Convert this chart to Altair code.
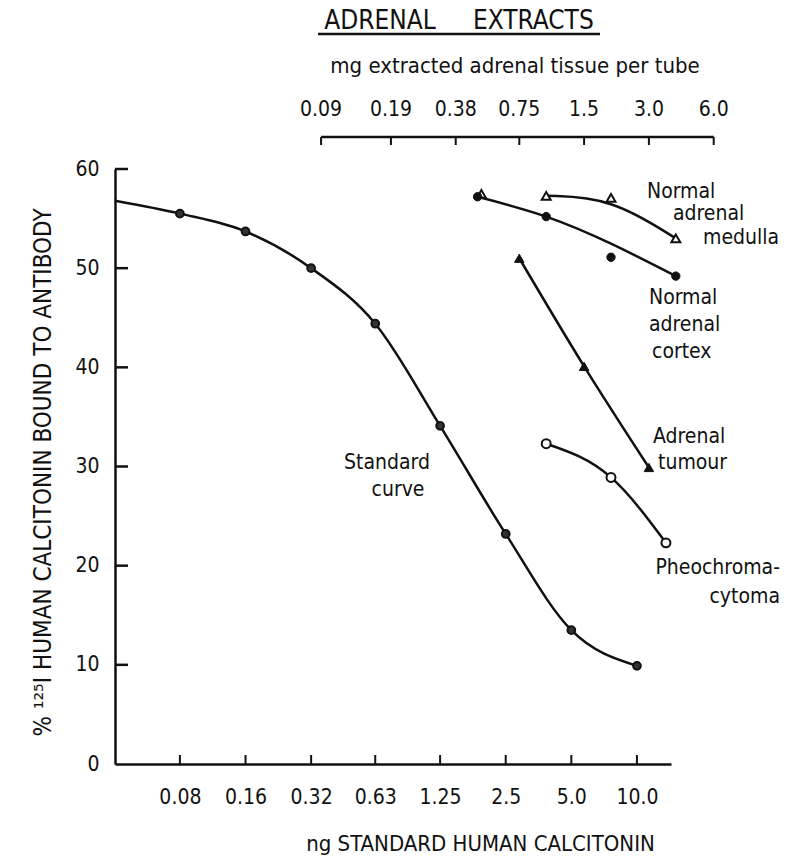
import altair as alt
import pandas as pd

# ---------------- data ----------------
# Standard curve, bottom axis (ng standard human calcitonin)
std_ng = [0.08, 0.16, 0.32, 0.63, 1.25, 2.5, 5.0, 10.0]
std_pct = [55.5, 53.7, 50.0, 44.4, 34.1, 23.2, 13.5, 9.9]
std_axis_ng = 0.0403      # where the drawn curve meets the y axis
std_axis_pct = 56.8

# Adrenal extracts, top axis (mg extracted adrenal tissue per tube)
medulla_mg = [0.5, 1.0, 2.0, 4.0]
medulla_pct = [57.5, 57.3, 57.1, 53.0]
medulla_fit = [1, 2, 3]          # points the drawn curve passes through
cortex_mg = [0.48, 1.0, 2.0, 4.0]
cortex_pct = [57.2, 55.2, 51.1, 49.2]
cortex_fit = [0, 1, 3]
tumour_mg = [0.75, 1.5, 3.0]
tumour_pct = [51.0, 40.1, 29.9]
pheo_mg = [1.0, 2.0, 3.6]
pheo_pct = [32.3, 28.9, 22.3]

# axes
ng_ticks = [0.08, 0.16, 0.32, 0.63, 1.25, 2.5, 5.0, 10.0]
mg_ticks = [0.09, 0.19, 0.38, 0.75, 1.5, 3.0, 6.0]
mg_labels = ["0.09", "0.19", "0.38", "0.75", "1.5", "3.0", "6.0"]
pct_ticks = [0, 10, 20, 30, 40, 50, 60]

# ---------------- styling ----------------
FONT = "DejaVu Sans Condensed, Liberation Sans Narrow, sans-serif"
INK = "#111111"
LW = 2.5
W, H = 556, 595
NB = "\u00a0"

ng_scale = alt.Scale(type="log", base=2, domain=[std_axis_ng, 14.33], nice=False)
mg_scale = alt.Scale(type="log", base=2, domain=[0.00993, 3.80], nice=False)
y_scale = alt.Scale(domain=[0, 60], nice=False)

bottom_axis = alt.Axis(
    values=ng_ticks,
    labelExpr="datum.value >= 5 ? format(datum.value, '.1f') : format(datum.value, '~g')",
    ticks=False, grid=False, domainColor=INK, domainWidth=LW,
    labelFont=FONT, labelFontSize=21, labelColor=INK, labelPadding=22, labelFlush=False,
    title="ng STANDARD HUMAN CALCITONIN", titleFont=FONT, titleFontSize=22,
    titleFontWeight="normal", titleColor=INK, titleX=365, titleY=79,
    titleAlign="center", titleBaseline="middle",
)
left_axis = alt.Axis(
    values=pct_ticks, ticks=False, grid=False, domainColor=INK, domainWidth=LW,
    labelFont=FONT, labelFontSize=21, labelColor=INK, labelPadding=16,
    title="% \u00b9\u00b2\u2075I HUMAN CALCITONIN BOUND TO ANTIBODY", titleFont=FONT,
    titleFontSize=24, titleFontWeight="normal", titleColor=INK,
    titleX=-72, titleY=303, titleAngle=270, titleAlign="center", titleBaseline="middle",
)


def xng(field="ng", axis=None):
    return alt.X(f"{field}:Q", scale=ng_scale, axis=axis)


def xmg(field="mg"):
    return alt.X(f"{field}:Q", scale=mg_scale, axis=None)


def ypct():
    return alt.Y("pct:Q", scale=y_scale, axis=left_axis)


def note(text, x, y, align="left", size=21):
    return alt.Chart(alt.Data(values=[{}])).mark_text(
        text=text, align=align, baseline="middle", font=FONT, fontSize=size, color=INK
    ).encode(x=alt.value(x), y=alt.value(y))


layers = []

# standard curve
std_line_df = pd.DataFrame({"ng": [std_axis_ng] + std_ng, "pct": [std_axis_pct] + std_pct})
std_pts_df = pd.DataFrame({"ng": std_ng, "pct": std_pct})
layers.append(alt.Chart(std_line_df).mark_line(color=INK, strokeWidth=LW, interpolate="monotone")
              .encode(x=xng(axis=bottom_axis), y=ypct()))
layers.append(alt.Chart(std_pts_df).mark_point(shape="circle", filled=True, fill="#333333",
                                                stroke=INK, strokeWidth=2, size=60, opacity=1)
              .encode(x=xng(), y=ypct()))

# inward ticks of the left and bottom axes
layers.append(alt.Chart(pd.DataFrame({"pct": pct_ticks[1:]})).mark_rule(color=INK, strokeWidth=LW)
              .encode(x=alt.value(0), x2=alt.value(13), y=ypct()))
layers.append(alt.Chart(pd.DataFrame({"ng": ng_ticks})).mark_rule(color=INK, strokeWidth=2)
              .encode(x=xng(), y=alt.value(H), y2=alt.value(H - 9)))

# top axis (mg adrenal tissue) drawn as a bracket
layers.append(alt.Chart(pd.DataFrame({"a": [mg_ticks[0]], "b": [mg_ticks[-1]]}))
              .mark_rule(color=INK, strokeWidth=LW)
              .encode(x=alt.X("a:Q", scale=mg_scale, axis=None), x2="b:Q", y=alt.value(-32)))
top_df = pd.DataFrame({"mg": mg_ticks, "label": mg_labels})
layers.append(alt.Chart(top_df).mark_rule(color=INK, strokeWidth=2)
              .encode(x=xmg(), y=alt.value(-32), y2=alt.value(-24)))
layers.append(alt.Chart(top_df).mark_text(font=FONT, fontSize=21, color=INK, baseline="middle")
              .encode(x=xmg(), y=alt.value(-59), text="label:N"))


def series(mg, pct, fit, point_kw, curve="monotone"):
    df = pd.DataFrame({"mg": mg, "pct": pct})
    fit_df = df.iloc[fit] if fit is not None else df
    line = alt.Chart(fit_df).mark_line(color=INK, strokeWidth=LW, interpolate=curve).encode(
        x=xmg(), y=ypct())
    pts = alt.Chart(df).mark_point(opacity=1, **point_kw).encode(x=xmg(), y=ypct())
    return [line, pts]


layers += series(medulla_mg, medulla_pct, medulla_fit,
                 dict(shape="triangle-up", filled=True, fill="white", stroke=INK, strokeWidth=2, size=80),
                 curve="basis")
layers += series(cortex_mg, cortex_pct, cortex_fit,
                 dict(shape="circle", filled=True, fill=INK, stroke=INK, strokeWidth=1, size=70))
layers += series(tumour_mg, tumour_pct, None,
                 dict(shape="triangle-up", filled=True, fill=INK, stroke=INK, strokeWidth=1, size=90))
layers += series(pheo_mg, pheo_pct, None,
                 dict(shape="circle", filled=True, fill="white", stroke=INK, strokeWidth=2, size=80))

# annotations
layers += [
    note("ADRENAL" + NB * 5 + "EXTRACTS", 344, -148, align="center", size=26),
    alt.Chart(alt.Data(values=[{}])).mark_rule(color=INK, strokeWidth=2.5)
    .encode(x=alt.value(203), x2=alt.value(485), y=alt.value(-135)),
    note("mg extracted adrenal tissue per tube", 400, -103, align="center", size=22),
    note("Standard", 272, 294, align="center"),
    note("curve", 283, 321, align="center"),
    note("Normal", 532, 23),
    note("adrenal", 558, 45),
    note("medulla", 588, 69),
    note("Normal", 534, 129),
    note("adrenal", 534, 156),
    note("cortex", 537, 183),
    note("Adrenal", 538, 268),
    note("tumour", 543, 294),
    note("Pheochroma-", 665, 399, align="right"),
    note("cytoma", 665, 428, align="right"),
]

chart = (
    alt.layer(*layers)
    .resolve_scale(x="independent")
    .properties(
        width=W, height=H,
        autosize=alt.AutoSizeParams(type="none"),
        padding={"left": 115, "top": 169, "right": 123, "bottom": 95},
        background="white",
    )
    .configure_view(stroke=None)
)

chart.save("out.html", embed_options={"renderer": "svg", "actions": False})
